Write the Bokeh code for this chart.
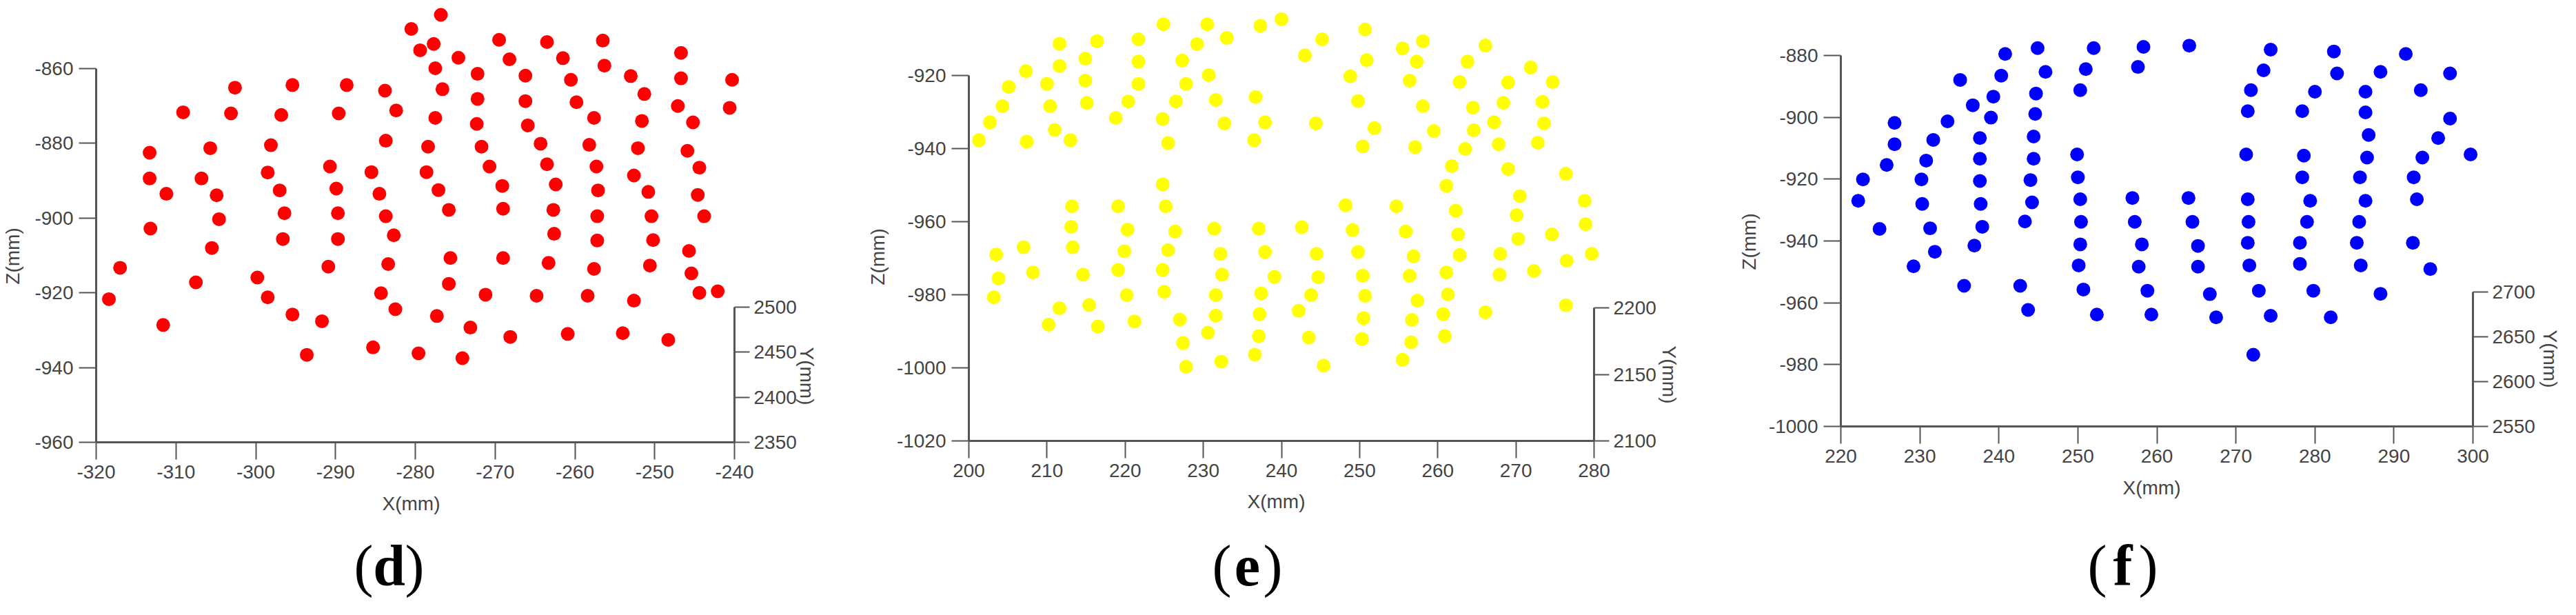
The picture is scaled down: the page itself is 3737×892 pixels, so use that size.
from bokeh.plotting import figure
from bokeh.models import Range1d, LinearAxis, FixedTicker, Label, PrintfTickFormatter
from bokeh.layouts import row
from bokeh.embed import file_html
from bokeh.resources import INLINE

# ---------------- data: panel (d) red ----------------
d_x = [-318.4, -317.0, -313.3, -313.3, -311.2, -313.2, -311.6, -309.1, -306.8, -305.7,
       -304.9, -304.6, -305.5, -307.5, -302.6, -303.1, -295.4, -296.8, -298.1, -298.5,
       -297.0, -296.4, -296.6, -299.8, -298.5, -295.4, -293.6, -288.6, -289.6, -290.7,
       -289.9, -289.7, -289.7, -290.9, -291.7, -283.8, -282.4, -283.7, -285.5, -284.5,
       -283.7, -282.7, -283.4, -284.3, -282.5, -285.3, -280.5, -276.8, -279.4, -277.7,
       -277.5, -276.6, -277.5, -278.4, -278.6, -277.1, -275.8, -275.6, -275.8, -277.3,
       -279.6, -274.6, -272.2, -272.2, -272.3, -271.7, -270.7, -269.1, -269.0, -269.0,
       -271.2, -273.1, -274.1, -268.1, -269.5, -268.2, -266.2, -266.2, -265.9, -264.3,
       -263.5, -262.4, -262.7, -262.6, -263.3, -264.8, -260.9, -263.5, -261.5, -260.5,
       -259.8, -257.6, -258.2, -257.3, -257.1, -257.2, -257.2, -257.6, -258.4, -256.5,
       -256.3, -253.0, -251.3, -251.6, -252.1, -252.6, -250.8, -250.4, -250.2, -250.6,
       -252.6, -254.0, -248.3, -246.7, -246.7, -247.1, -245.2, -245.9, -244.4, -244.6,
       -243.8, -245.7, -245.4, -244.4, -242.1, -240.3, -240.6]
d_z = [-921.7, -913.3, -882.5, -889.4, -893.5, -902.8, -928.6, -871.7, -889.4, -881.3,
       -893.9, -900.3, -908.0, -917.2, -865.1, -872.0, -864.4, -872.4, -880.5, -887.8,
       -892.6, -898.7, -905.6, -915.9, -921.2, -925.8, -936.6, -864.4, -872.0, -886.2,
       -892.1, -898.7, -905.6, -913.0, -927.6, -865.9, -871.2, -879.3, -887.7, -893.5,
       -899.5, -904.6, -912.3, -920.1, -924.4, -934.6, -849.4, -845.6, -855.1, -853.4,
       -859.9, -865.5, -873.2, -880.9, -887.7, -892.5, -897.8, -910.7, -917.6, -926.2,
       -936.2, -857.1, -861.4, -868.1, -874.8, -880.9, -886.2, -891.4, -897.5, -910.7,
       -920.5, -929.3, -937.5, -931.8, -852.3, -857.5, -861.9, -868.7, -875.2, -880.1,
       -885.6, -891.0, -897.8, -904.2, -912.0, -920.8, -931.0, -852.9, -857.2, -863.0,
       -869.0, -873.2, -880.4, -886.2, -892.6, -899.5, -906.0, -913.6, -920.8, -852.5,
       -859.2, -862.0, -866.8, -874.0, -881.3, -888.6, -893.0, -899.5, -905.9, -912.7,
       -922.1, -930.8, -932.6, -855.8, -862.6, -870.0, -874.4, -882.0, -886.5, -893.8,
       -899.5, -908.8, -914.8, -920.0, -919.6, -863.0, -870.5]
d_xticks = [-320, -310, -300, -290, -280, -270, -260, -250, -240]
d_zticks = [-960, -940, -920, -900, -880, -860]
d_yticks = [2350, 2400, 2450, 2500]

# ---------------- data: panel (e) yellow ----------------
e_x = [201.3, 202.7, 204.3, 205.1, 207.3, 207.4, 210.0, 210.4, 211.0, 211.6,
       211.6, 213.0, 214.9, 214.9, 215.1, 216.4, 218.8, 220.4, 221.7, 221.7,
       221.7, 224.9, 224.8, 225.5, 226.5, 227.3, 227.8, 229.2, 230.5, 230.7,
       231.6, 232.7, 233.0, 236.7, 237.3, 237.9, 236.5, 240.0, 243.0, 244.4,
       245.2, 248.8, 249.8, 250.4, 250.7, 250.9, 251.9, 255.5, 256.4, 257.3,
       258.1, 257.1, 258.1, 259.5, 261.8, 262.8, 263.8, 264.5, 264.6, 263.5,
       266.1, 267.2, 268.4, 269.0, 267.8, 269.0, 271.9, 273.4, 273.6, 272.8,
       274.7, 276.4,
       203.5, 203.8, 203.2, 207.0, 208.2, 210.2, 211.6, 213.2, 213.1, 213.3,
       214.6, 215.4, 216.5, 219.1, 219.1, 219.9, 220.3, 220.2, 221.2, 224.8,
       225.2, 226.4, 225.5, 224.8, 225.0, 227.0, 227.4, 227.8, 231.4, 232.2,
       232.4, 231.6, 231.6, 230.6, 232.3, 237.1, 237.9, 239.1, 237.4, 237.2,
       237.1, 236.6, 242.6, 244.5, 244.7, 243.8, 242.2, 243.5, 245.4, 248.2,
       249.1, 249.8, 250.4, 250.7, 250.5, 250.3, 254.7, 255.9, 256.9, 256.4,
       257.4, 256.7, 256.6, 255.5, 261.1, 262.3, 262.6, 262.8, 261.1, 261.3,
       260.7, 260.9, 266.1, 268.0, 267.9, 270.5, 270.1, 270.3, 272.3, 274.6,
       276.5, 276.4, 278.8, 278.9, 279.7]
e_z = [-937.7, -932.8, -928.4, -923.1, -918.8, -938.1, -922.3, -928.4, -934.9, -911.3,
       -917.4, -937.7, -915.4, -921.4, -927.5, -910.6, -931.6, -927.1, -910.1, -916.2,
       -922.3, -906.0, -931.9, -938.5, -927.1, -915.9, -922.3, -911.4, -906.0, -919.9,
       -926.7, -933.1, -909.7, -925.9, -906.4, -932.8, -937.7, -904.6, -914.5, -933.1,
       -910.1, -920.2, -927.0, -939.4, -907.4, -915.8, -934.4, -912.6, -921.4, -916.2,
       -928.4, -939.6, -910.6, -935.2, -944.8, -921.8, -916.2, -928.8, -935.0, -940.1,
       -911.8, -932.8, -927.5, -921.9, -938.8, -945.6, -917.8, -927.2, -933.1, -938.4,
       -921.8, -946.9,
       -969.0, -975.5, -980.7, -967.0, -973.9, -988.2, -983.7, -955.8, -961.4, -967.0,
       -974.5, -982.8, -988.7, -955.8, -973.2, -968.1, -962.2, -980.1, -987.3, -949.8,
       -955.8, -962.7, -967.8, -973.2, -979.2, -986.8, -993.2, -999.7, -961.9, -968.8,
       -974.5, -980.1, -985.7, -990.4, -998.3, -961.9, -968.3, -975.1, -979.6, -985.3,
       -991.3, -996.4, -961.5, -968.8, -975.2, -980.1, -984.4, -991.7, -999.4, -955.5,
       -962.3, -968.3, -974.8, -980.3, -986.4, -992.1, -955.8, -962.7, -969.5, -974.8,
       -981.6, -986.9, -993.0, -997.8, -950.2, -957.0, -963.5, -969.1, -973.9, -979.9,
       -985.3, -991.3, -984.8, -968.8, -974.5, -953.0, -958.2, -964.7, -973.5, -963.5,
       -970.7, -982.9, -954.3, -960.7, -968.8]
e_xticks = [200, 210, 220, 230, 240, 250, 260, 270, 280]
e_zticks = [-1020, -1000, -980, -960, -940, -920]
e_yticks = [2100, 2150, 2200]

# ---------------- data: panel (f) blue ----------------
f_x = [222.2, 222.8, 224.9, 225.8, 226.8, 226.8, 229.2, 230.2, 230.3, 230.8,
       231.3, 231.7, 231.9, 233.5, 235.1, 235.6, 236.7, 236.9, 237.6, 237.6,
       237.6, 237.7, 237.9, 239.0, 239.3, 240.3, 240.8, 242.7, 243.3, 243.7,
       244.0, 244.2, 244.4, 244.4, 244.6, 244.7, 244.9, 245.9, 249.9, 250.0,
       250.3, 250.3, 250.4, 250.3, 250.1, 250.7, 251.0, 252.0, 252.4, 256.9,
       257.2, 257.6, 258.1, 257.7, 258.3, 258.8, 259.3, 264.0, 264.1, 264.5,
       265.2, 265.2, 266.7, 267.5, 271.3, 271.5, 271.9, 271.5, 271.6, 271.5,
       271.7, 272.2, 272.9, 273.5, 274.4, 274.4, 278.4, 278.6, 278.4, 279.4,
       279.0, 278.1, 278.1, 279.8, 280.0, 282.0, 282.4, 282.8, 285.7, 285.6,
       285.3, 285.8, 286.4, 286.6, 286.8, 286.4, 286.4, 288.3, 288.3, 291.5,
       292.4, 292.5, 292.9, 293.6, 293.4, 294.6, 295.6, 297.1, 297.1, 299.7]
f_z = [-927.0, -920.1, -936.1, -915.4, -908.7, -901.8, -948.2, -920.1, -928.0, -914.0,
       -935.9, -907.3, -943.5, -901.3, -887.9, -954.5, -896.1, -941.5, -906.7, -913.4,
       -920.6, -928.0, -935.4, -900.1, -893.3, -886.5, -879.5, -954.5, -933.7, -962.3,
       -920.3, -927.5, -913.4, -906.2, -898.9, -892.3, -877.6, -885.3, -912.0, -919.4,
       -891.2, -926.5, -933.8, -941.1, -947.9, -955.7, -884.4, -877.6, -963.8, -926.1,
       -933.8, -883.7, -941.1, -948.3, -877.2, -956.1, -963.8, -926.1, -876.8, -933.8,
       -941.6, -948.3, -957.2, -964.7, -912.0, -898.0, -891.2, -926.5, -933.8, -940.6,
       -947.9, -976.8, -956.1, -884.8, -878.1, -964.2, -898.0, -912.4, -919.4, -927.0,
       -933.8, -940.6, -947.4, -956.1, -891.7, -964.7, -878.7, -885.8, -919.4, -933.8,
       -940.6, -947.9, -927.0, -913.0, -905.7, -898.4, -891.7, -885.3, -957.1, -879.5,
       -940.6, -919.4, -926.5, -913.0, -891.2, -949.1, -906.7, -900.4, -885.8, -912.0]
f_xticks = [220, 230, 240, 250, 260, 270, 280, 290, 300]
f_zticks = [-1000, -980, -960, -940, -920, -900, -880]
f_yticks = [2550, 2600, 2650, 2700]

# ---------------- layout geometry (page pixels) ----------------
PAGE_Y0 = 8
H = 876
AX_COL = "#555555"
TXT_COL = "#444444"
SANS = "Liberation Sans"
SERIF = "Liberation Serif"


def panel(xs, zs, color, xt, zt, yt, g):
    sx = (g["x1px"] - g["x0px"]) / (xt[-1] - xt[0])
    sz = (g["z0px"] - g["z1px"]) / (zt[-1] - zt[0])
    sy = (g["y0px"] - g["y1px"]) / (yt[-1] - yt[0])

    def X(px):
        return xt[0] + (px - g["x0px"]) / sx

    def Z(py):
        return zt[0] + (g["z0px"] - py) / sz

    def YV(py):
        return yt[0] + (g["y0px"] - py) / sy

    x0, W = g["X0"], g["W"]
    FL, FR, FT, FB = x0, x0 + W, PAGE_Y0, PAGE_Y0 + H
    p = figure(frame_width=W, frame_height=H,
               x_range=Range1d(X(FL), X(FR)), y_range=Range1d(Z(FB), Z(FT)),
               x_axis_type=None, y_axis_type=None,
               output_backend="svg", toolbar_location=None,
               min_border_left=0, min_border_right=0,
               min_border_top=0, min_border_bottom=0)
    p.outline_line_color = None
    p.background_fill_color = "white"
    p.border_fill_color = "white"
    p.extra_y_ranges = {"Y": Range1d(YV(FB), YV(FT))}

    def style(ax, tick_out, standoff):
        ax.axis_line_color = AX_COL
        ax.axis_line_width = 3
        ax.major_tick_line_color = AX_COL
        ax.major_tick_line_width = 2
        ax.major_tick_out = tick_out
        ax.major_tick_in = 0
        ax.minor_tick_line_color = None
        ax.major_label_text_font = SANS
        ax.major_label_text_font_size = "28px"
        ax.major_label_text_color = TXT_COL
        ax.major_label_standoff = standoff
        ax.formatter = PrintfTickFormatter(format="%d")

    bx = LinearAxis(ticker=FixedTicker(ticks=xt), bounds=(xt[0], xt[-1]),
                    fixed_location=zt[0])
    style(bx, 25, 8)
    p.add_layout(bx, "below")
    ly = LinearAxis(ticker=FixedTicker(ticks=zt), bounds=(zt[0], zt[-1]),
                    fixed_location=xt[0])
    style(ly, 25, 8)
    p.add_layout(ly, "left")
    ry = LinearAxis(y_range_name="Y", ticker=FixedTicker(ticks=yt),
                    bounds=(yt[0], yt[-1]), fixed_location=xt[-1])
    style(ry, 22, 6)
    p.add_layout(ry, "right")

    p.scatter(xs, zs, size=20, fill_color=color, line_color=None)

    def lab(text, px, py, angle=0.0, font=SANS, size="28px", style_="normal",
            align="center", col=TXT_COL):
        p.add_layout(Label(x=X(px), y=Z(py), text=text, angle=angle,
                           text_font=font, text_font_size=size,
                           text_font_style=style_, text_color=col,
                           text_align=align, text_baseline="middle"))

    lab("X(mm)", *g["xlab"])
    lab("Z(mm)", *g["zlab"], angle=1.5708)
    lab("Y(mm)", *g["ylab"], angle=-1.5708)
    cx, cy = g["cap"]
    lab("(", cx - 23, cy, font=SERIF, size="84px", align="right", col="black")
    lab(g["letter"], cx, cy, font=SERIF, size="84px", style_="bold", col="black")
    lab(")", cx + 23, cy, font=SERIF, size="84px", align="left", col="black")
    return p


gd = dict(X0=8, W=1237, x0px=147, x1px=1073, z0px=649, z1px=107, y0px=649, y1px=453,
          xlab=(604, 738), zlab=(26, 379), ylab=(1178, 553), cap=(572, 828), letter="d")
ge = dict(X0=1245, W=1245, x0px=1413, x1px=2320, z0px=647, z1px=117, y0px=647, y1px=454,
          xlab=(1859, 735), zlab=(1281, 380), ylab=(2429, 551), cap=(1817, 828), letter="e")
gf = dict(X0=2490, W=1239, x0px=2678, x1px=3595, z0px=626, z1px=88, y0px=626, y1px=431,
          xlab=(3129, 715), zlab=(2545, 358), ylab=(3707, 528), cap=(3087, 828), letter="f")

pd_ = panel(d_x, d_z, "#FF0000", d_xticks, d_zticks, d_yticks, gd)
pe_ = panel(e_x, e_z, "#FFFF00", e_xticks, e_zticks, e_yticks, ge)
pf_ = panel(f_x, f_z, "#0000FF", f_xticks, f_zticks, f_yticks, gf)

layout = row(pd_, pe_, pf_, spacing=0)
open("out.html", "w").write(file_html(layout, INLINE))
